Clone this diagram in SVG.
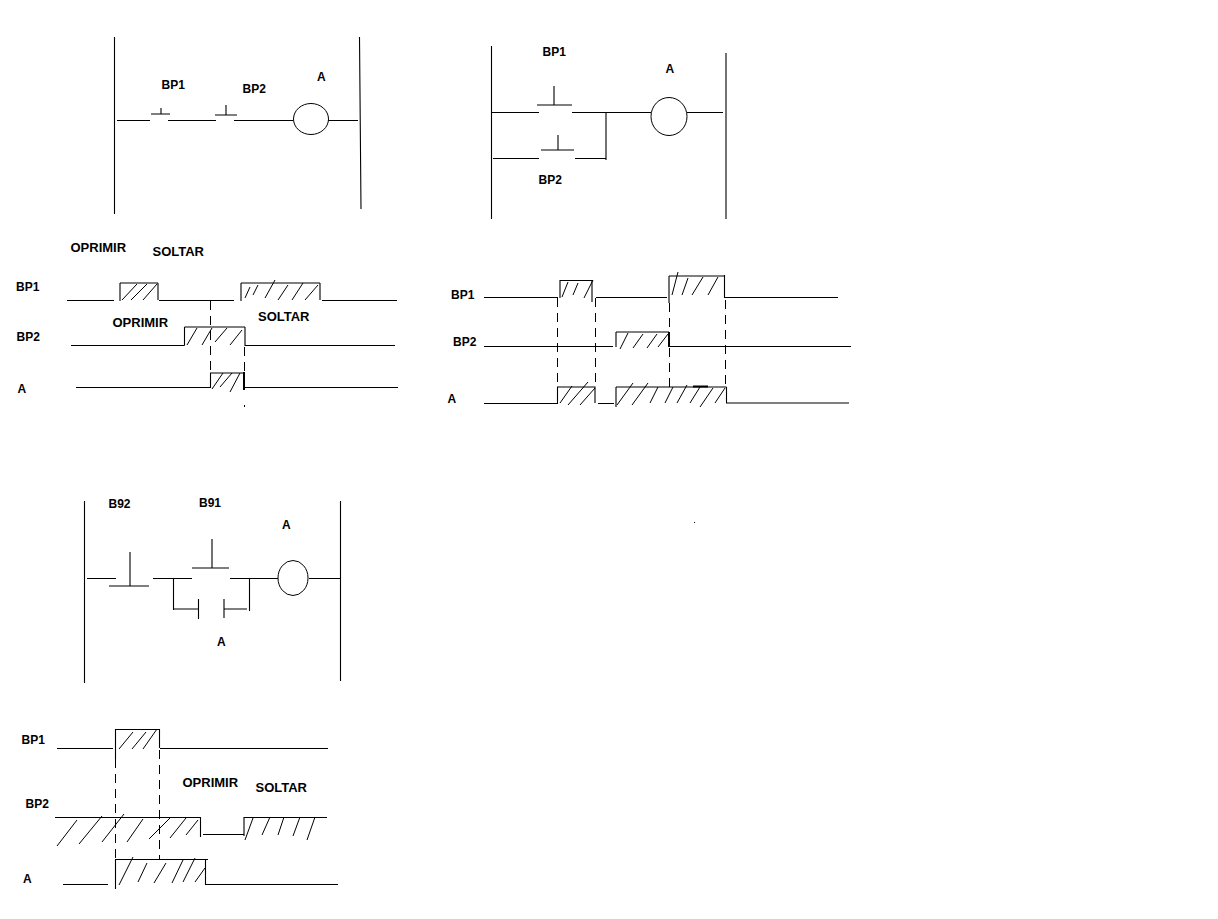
<svg xmlns="http://www.w3.org/2000/svg" width="1218" height="919" viewBox="0 0 1218 919">
<style>
.l{fill:none;stroke:#000;stroke-width:1.1}
.h{fill:none;stroke:#000;stroke-width:1}
.d{fill:none;stroke:#000;stroke-width:1;stroke-dasharray:9 6}
.c{fill:#fff;stroke:#000;stroke-width:1}
.t{font-family:"Liberation Sans",Arial,sans-serif;font-weight:bold;font-size:12px;fill:#000}
.b{font-size:13px}
</style>
<rect width="1218" height="919" fill="#fff"/>
<g id="ladder-series">
<path class="l" d="M114.500 37V214M359.500 37L361 209M117 120.500H150M151 114H170M161 108V114M168 120.500H216M215 115H237M226 105V115M234 120.500H293M328 120.500H358"/>
<ellipse class="c" cx="311" cy="119" rx="17.500" ry="15.500"/>
<text class="t" x="161.500" y="89">BP1</text><text class="t" x="242.500" y="93">BP2</text><text class="t" x="317" y="81">A</text>
</g>
<g id="ladder-parallel">
<path class="l" d="M491.500 46V219M726 53V219M492 112.500H539M537 105H572M554 86V105M572 112.500H651M687 112.500H723M493 158.500H539M541 150H574M558 135V150M575 158.500H606M606 112V160"/>
<ellipse class="c" cx="669" cy="116.500" rx="18" ry="19"/>
<text class="t" x="542.500" y="56">BP1</text><text class="t" x="665.500" y="72.500">A</text><text class="t" x="538.500" y="183.500">BP2</text>
</g>
<g id="ladder-latch">
<path class="l" d="M84.500 501V683M340.500 501V681M87 578.500H116M130 552V586M109 586H149M153 578.500H192M192 568H229M212 539V568M230 578.500H278M309 578.500H340M173.500 578V610M173 609H198.500M198.500 599V619M224 599V618M224 609H247M249.500 578V611"/>
<ellipse class="c" cx="293" cy="578" rx="15" ry="17.500"/>
<text class="t" x="108.500" y="508">B92</text><text class="t" x="199" y="507">B91</text><text class="t" x="282" y="529">A</text><text class="t" x="217" y="646">A</text>
</g>
<g id="timing-series">
<path class="l" d="M67 300.500H114M120 283V301M120 283H158M158 283V300M159 300.500H234M241 283V301M241 283H320M320 283V300M322 300.500H397M71 345.500H184.500M184.500 345.500V327M184.500 327H245M245 327V346M245 345.500H395M76 387.500H210.500V373H244M245 387.500H398"/>
<path d="M244 372V390" fill="none" stroke="#000" stroke-width="2"/>
<path class="d" d="M210.500 301V373M244.500 347V372M244.500 405V407"/>
<path class="h" d="M122 300L137 284M131 300L147 284M143 300L157 284M245 298L250 287M253 295L258 285M265 298L275 280M278 300L288 285M292 300L303 283M305 300L318 285M187 345L197 328M202 345L212 328M215 342L227 328M230 345L242 330M212 389L223 373M220 387L232 373M230 392L240 373"/>
<text class="t b" x="70.500" y="252">OPRIMIR</text><text class="t b" x="152.500" y="256">SOLTAR</text><text class="t" x="16" y="290.500">BP1</text><text class="t b" x="112.500" y="327">OPRIMIR</text><text class="t b" x="258" y="321">SOLTAR</text><text class="t" x="16.500" y="341">BP2</text><text class="t" x="17.500" y="393">A</text>
</g>
<g id="timing-parallel">
<path class="l" d="M484 297.500H558M560 280V298M560 280.500H593M592 280V302M596 297.500H667M669 276V303M669 276H724M724.500 275V298M725 297.500H838M484 346.500H613M616 332V347M616 332H669M669 346.500H851M484 403.500H557.500V387H595V403M598 403.500H614M616 387V407M616 387H726.500M726.500 387V403H849"/>
<path d="M669 332V347M693 386.500H708" fill="none" stroke="#000" stroke-width="2"/>
<path class="d" d="M557.500 298V387M595.500 298V387M669.500 303V390M725.500 300V387"/>
<path class="h" d="M562 297L568 282M573 295L578 283M584 298L593 280M672 295L678 272M682 295L688 278M692 295L703 277M708 295L718 277M620 349L628 333M633 348L643 334M647 348L657 334M658 347L668 334M560 403L572 386M568 405L588 382M580 405L595 388M617 405L633 383M632 405L648 383M650 403L658 387M665 403L673 387M677 403L687 385M690 403L700 387M700 407L713 388M715 403L725 388"/>
<rect x="694" y="522" width="1" height="1" fill="#000"/>
<text class="t" x="451" y="299">BP1</text><text class="t" x="453" y="346">BP2</text><text class="t" x="447.500" y="403">A</text>
</g>
<g id="timing-latch">
<path class="l" d="M57 748.500H113M115.500 729V759M115 729.500H159.500V748M160 748.500H328M55 817.500H200.500V837M203 834.500H243.500M244 817V836M244 817.500H327M63 884.500H108M115.500 859V889M115 859.500H208M205.500 859V884.500H338"/>
<path class="d" d="M115.500 759V859M159.500 750V860"/>
<path class="h" d="M119 749L133 732M132 749L146 732M143 749L157 729M57 846L77 820M79 844L102 816M102 842L124 814M127 842L143 819M149 839L171 817M170 838L186 818M186 835L198 820M245 840L253 818M262 835L270 817M278 835L284 817M293 836L300 817M307 840L315 817M119 885L133 857M138 882L147 863M154 883L166 863M172 883L183 860M183 882L195 858M195 882L205 868"/>
<text class="t" x="21.500" y="744">BP1</text><text class="t" x="25.500" y="808">BP2</text><text class="t b" x="182.500" y="787">OPRIMIR</text><text class="t b" x="255.500" y="792">SOLTAR</text><text class="t" x="23" y="882.500">A</text>
</g>
</svg>
